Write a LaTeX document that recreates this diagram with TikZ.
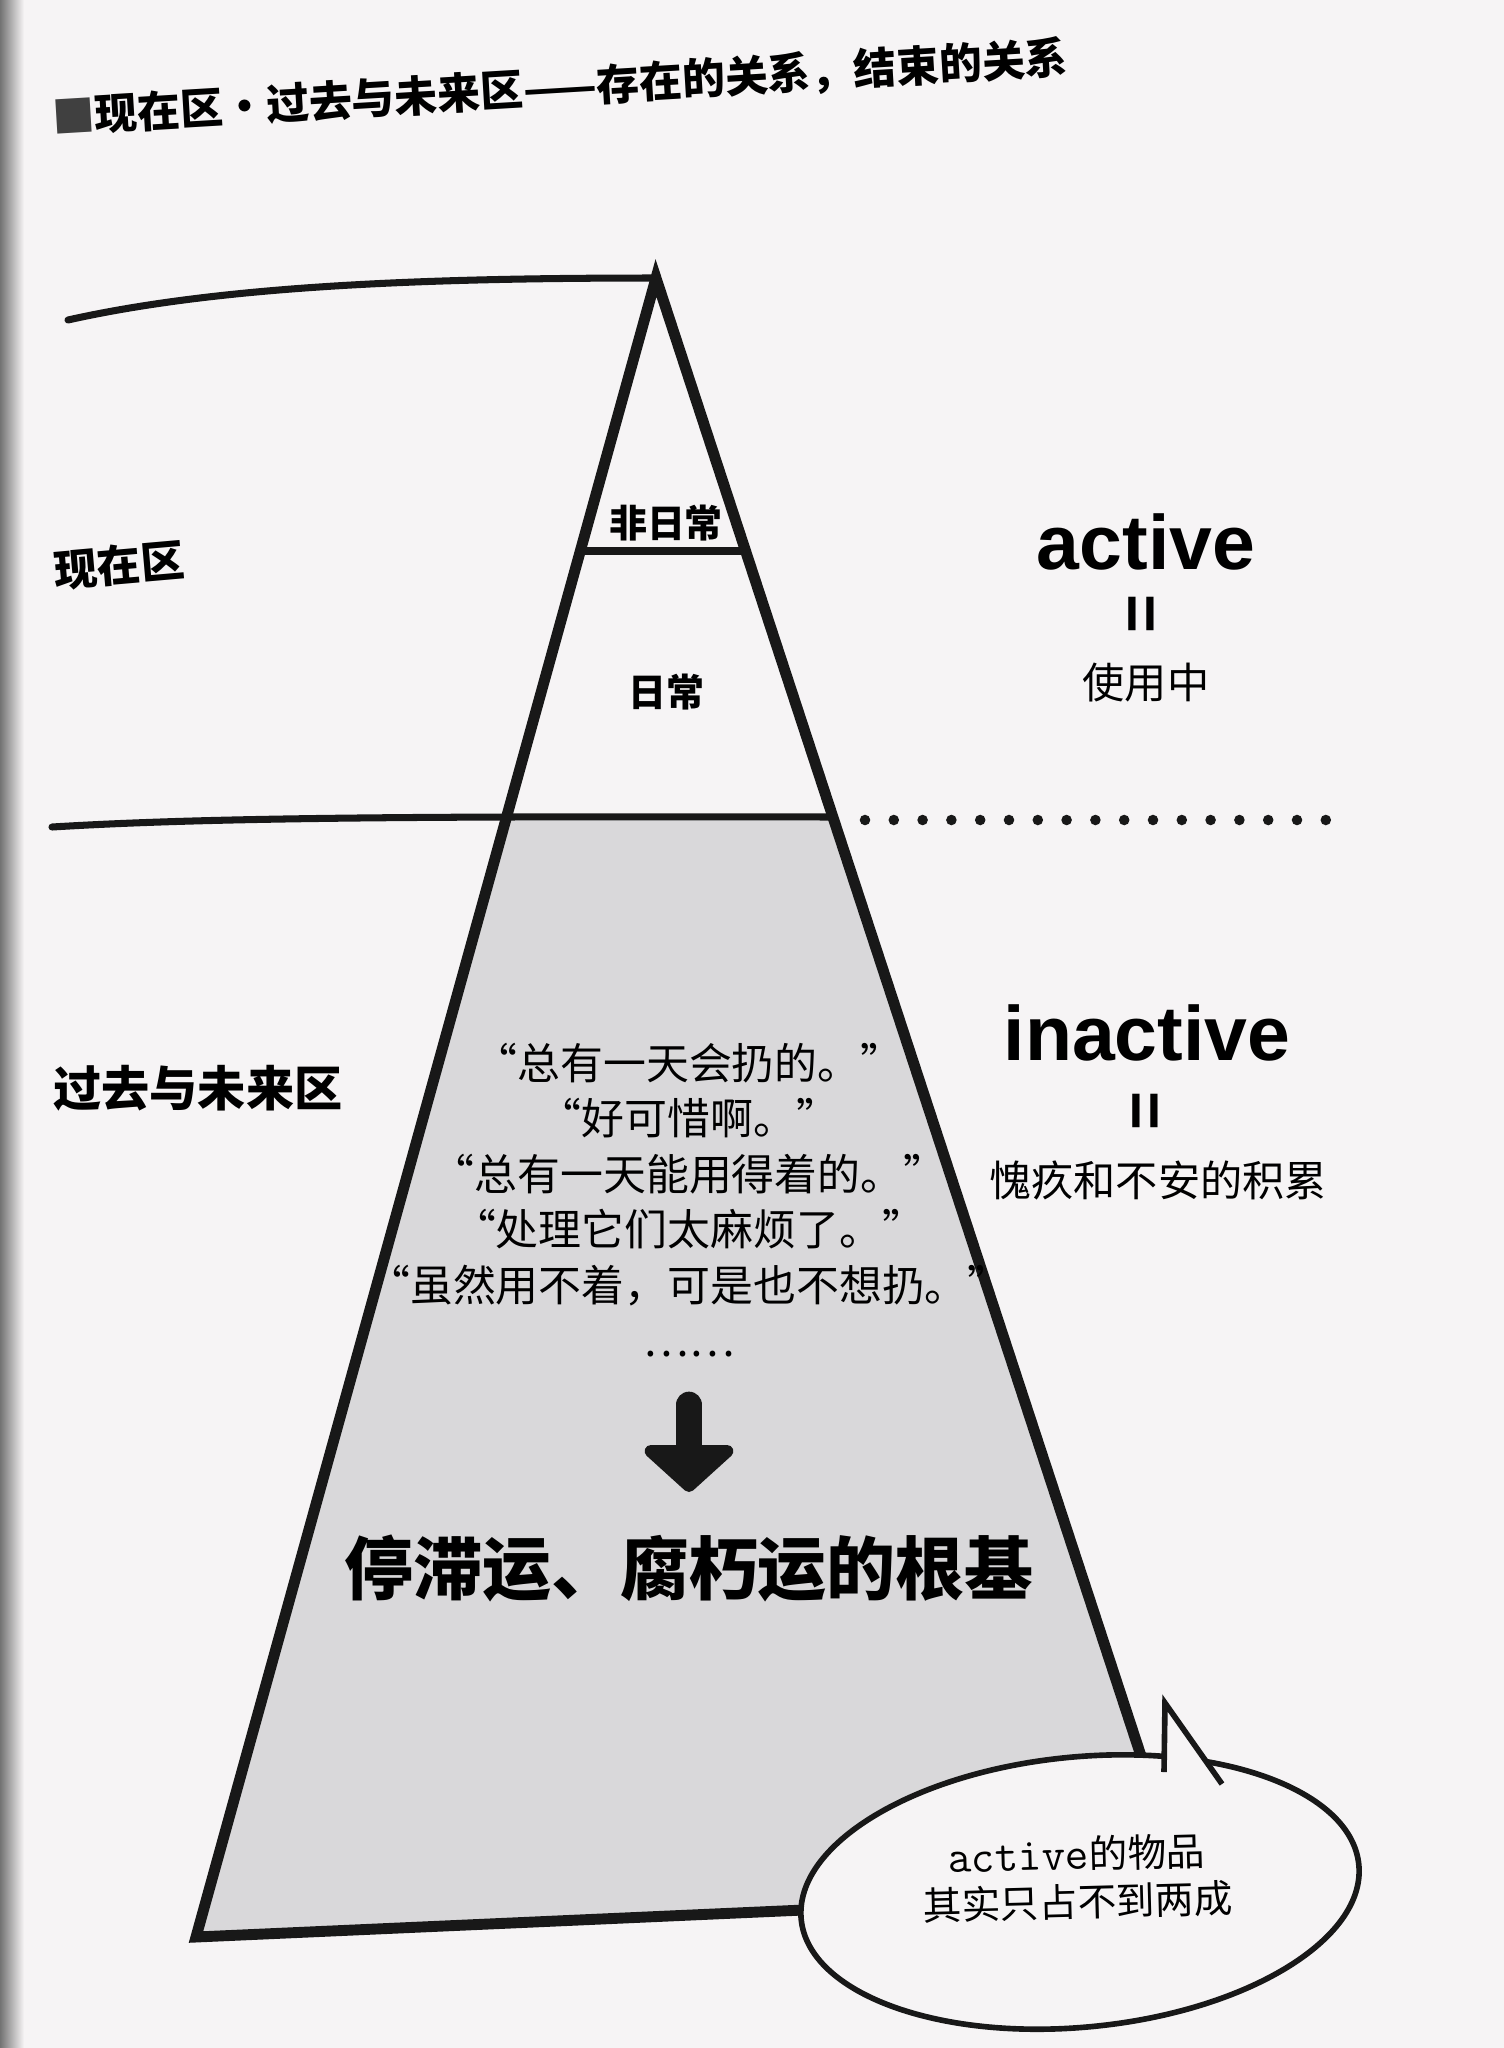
\documentclass[tikz,border=0pt]{standalone}
\usepackage{fontspec}
\newfontfamily\cjk{Noto Sans CJK SC}
\newfontfamily\headfont{Liberation Sans}
\usetikzlibrary{arrows.meta}
\definecolor{paper}{RGB}{246,244,245}
\definecolor{ink}{RGB}{24,24,24}
\definecolor{stone}{RGB}{217,216,218}
\tikzset{
  edge/.style={ink, line width=3.1pt, line join=miter},
  zone/.style={ink, line width=2pt, line cap=round},
  bigarrow/.style={ink, line width=7.6pt, line cap=round,
    -{Triangle[width=30pt, length=14pt, round]}},
  zonelabel/.style={inner sep=0pt, font=\fontsize{12.4}{14}\selectfont\cjk\bfseries},
  tierlabel/.style={inner sep=0pt, font=\fontsize{10.8}{13}\selectfont\cjk\bfseries},
  statelabel/.style={inner sep=0pt, font=\fontsize{21.9}{24}\selectfont\headfont\bfseries},
  eqsign/.style={inner sep=0pt, rotate=90, font=\fontsize{19}{21}\selectfont\headfont\bfseries},
  meaning/.style={inner sep=0pt, font=\fontsize{12}{14}\selectfont\cjk}
}
\begin{document}
\begin{tikzpicture}[x=0.01cm, y=-0.01cm]
  % page
  \fill[paper] (0,0) rectangle (1504,2048);
  \useasboundingbox (0,0) rectangle (1504,2048);
  \shade[left color=black!55, right color=paper] (0,0) rectangle (24,2048);

  % pyramid corners
  \coordinate (apex) at (656,278);
  \coordinate (bl) at (196,1937);
  \coordinate (br) at (1186,1893);
  \coordinate (ml) at (507,817);
  \coordinate (mr) at (833,817);
  \coordinate (nl) at (580,551);
  \coordinate (nr) at (746,551);

  \fill[stone] (ml) -- (mr) -- (br) -- (bl) -- cycle;
  \draw[zone] (68,320) .. controls (220,286) and (420,278) .. (apex);
  \draw[zone] (52,827) .. controls (200,818) and (400,816) .. (mr);
  \draw[zone] (nl) -- (nr);
  \draw[edge] (apex) -- (bl) -- (br) -- cycle;

  % dotted divider
  \foreach \i in {0,...,16}
    \fill[ink] (865+28.8*\i, 820) circle [radius=1.5pt];

  % title
  \node (title) [rotate=3.4, inner sep=0pt, font=\fontsize{12.2}{14}\selectfont\cjk\bfseries]
    at (560,88) {{\color{darkgray}■}现在区·过去与未来区——存在的关系，结束的关系};

  % zones
  \node (now) [zonelabel, rotate=5] at (119,565) {现在区};
  \node (pastfuture) [zonelabel, font=\fontsize{13.7}{16}\selectfont\cjk\bfseries]
    at (198,1088) {过去与未来区};
  \node (rare) [tierlabel] at (666,523) {非日常};
  \node (daily) [tierlabel] at (666,692) {日常};

  % right column
  \node (act) [statelabel] at (1146,542) {active};
  \node (acteq) [eqsign] at (1146,614) {=};
  \node (inuse) [meaning] at (1146,683) {使用中};
  \node (inact) [statelabel] at (1147,1033) {inactive};
  \node (inacteq) [eqsign] at (1150,1111) {=};
  \node (guilt) [meaning] at (1158,1180) {愧疚和不安的积累};

  % inside the base
  \node (quotes) [align=center, inner sep=0pt, font=\fontsize{12.2}{15.8}\selectfont\cjk]
    at (689,1200) {“总有一天会扔的。”\\“好可惜啊。”\\“总有一天能用得着的。”\\“处理它们太麻烦了。”\\“虽然用不着，可是也不想扔。”\\……};
  \coordinate (arrtop) at (689,1405);
  \coordinate (arrtip) at (689,1492);
  \draw[bigarrow] (arrtop) -- (arrtip);
  \node (root) [inner sep=0pt, font=\fontsize{19.6}{22}\selectfont\cjk\bfseries]
    at (689,1568) {停滞运、腐朽运的根基};

  % callout
  \draw[ink, fill=paper, line width=1.6pt, rotate around={5.6:(1080,1892)}]
    (1080,1892) ellipse [x radius=2.8cm, y radius=1.35cm];
  \coordinate (tip) at (1165,1703);
  \coordinate (pl) at (1164,1772);
  \coordinate (pr) at (1222,1784);
  \fill[paper] (tip) -- (1164,1795) -- (1231,1796) -- cycle;
  \draw[ink, line width=1.6pt, line join=miter] (pl) -- (tip) -- (pr);
  \node (calltext) [rotate=1.5, align=center, inner sep=0pt,
    font=\fontsize{11}{13.3}\selectfont\cjk] at (1077,1878)
    {{\ttfamily\fontsize{13}{13.3}\selectfont active}的物品\\其实只占不到两成};
\end{tikzpicture}
\end{document}
